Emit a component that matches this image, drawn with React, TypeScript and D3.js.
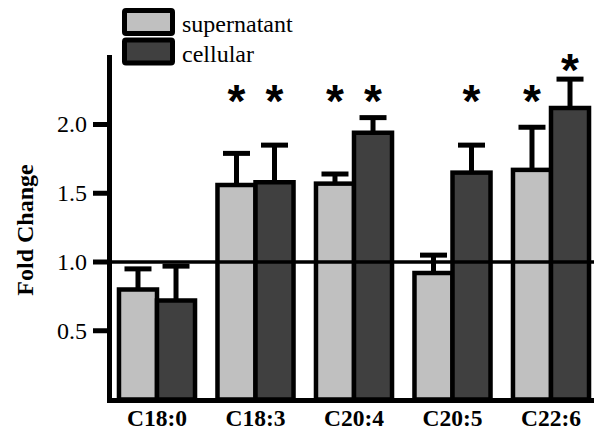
import React from 'react'
import * as d3 from 'd3'

const WIDTH = 596
const HEIGHT = 436

const categories = ['C18:0', 'C18:3', 'C20:4', 'C20:5', 'C22:6']
const seriesNames = ['supernatant', 'cellular']
const seriesColors = ['#c0c0c0', '#404040']

const supernatant = [0.80, 1.56, 1.57, 0.92, 1.67]
const supernatantErr = [0.15, 0.23, 0.07, 0.13, 0.31]
const cellular = [0.72, 1.58, 1.94, 1.65, 2.12]
const cellularErr = [0.25, 0.27, 0.11, 0.20, 0.21]

// significance markers
const supernatantSig = [false, true, true, false, true]
const cellularSig = [false, true, true, true, true]

const yTicks = [0.5, 1.0, 1.5, 2.0]
const refLine = 1.0
const starLevel = 2.22

const AXIS_X = 109.5
const AXIS_Y = 399.5
const TOP = 55
const RIGHT = 594

const SERIF = 'Liberation Serif, Times New Roman, Times, serif'
const SANS = 'Liberation Sans, Arial, sans-serif'

const App = () => {
  const yScale = d3.scaleLinear().domain([0, 1]).range([AXIS_Y, AXIS_Y - 137.5])
  const xScale = d3.scaleBand<string>()
    .domain(categories)
    .range([107.75, 600.25])
    .paddingInner(0.228)
    .paddingOuter(0.114)
  const inner = d3.scaleBand<string>().domain(seriesNames).range([0, xScale.bandwidth()])

  const series = [
    { name: seriesNames[0], values: supernatant, errs: supernatantErr, sig: supernatantSig, color: seriesColors[0] },
    { name: seriesNames[1], values: cellular, errs: cellularErr, sig: cellularSig, color: seriesColors[1] },
  ]

  return (
    <svg width={WIDTH} height={HEIGHT} style={{ position: 'absolute', left: 0, top: 0, background: 'white' }}>
      {/* error bars behind bars */}
      {series.map(s => categories.map((c, i) => {
        const cx = (xScale(c) || 0) + (inner(s.name) || 0) + inner.bandwidth() / 2
        const top = yScale(s.values[i] + s.errs[i])
        return (
          <g key={s.name + c + 'err'}>
            <line x1={cx} x2={cx} y1={yScale(s.values[i])} y2={top} stroke="black" strokeWidth={5} />
            <line x1={cx - 13.5} x2={cx + 13.5} y1={top} y2={top} stroke="black" strokeWidth={5} />
          </g>
        )
      }))}

      {/* bars */}
      {series.map(s => categories.map((c, i) => (
        <rect
          key={s.name + c}
          x={(xScale(c) || 0) + (inner(s.name) || 0)}
          y={yScale(s.values[i])}
          width={inner.bandwidth()}
          height={yScale(0) - yScale(s.values[i])}
          fill={s.color}
          stroke="black"
          strokeWidth={4.5}
        />
      )))}

      {/* reference line at 1.0 */}
      <line x1={95} x2={RIGHT} y1={yScale(refLine)} y2={yScale(refLine)} stroke="black" strokeWidth={3.5} />

      {/* stars */}
      {series.map(s => categories.map((c, i) => {
        if (!s.sig[i]) return null
        const cx = (xScale(c) || 0) + (inner(s.name) || 0) + inner.bandwidth() / 2
        const level = Math.max(starLevel, s.values[i] + s.errs[i] + 0.12)
        return (
          <text key={s.name + c + 'star'} x={cx} y={yScale(level) + 23} textAnchor="middle"
            fontFamily={SANS} fontWeight="bold" fontSize={46}>*</text>
        )
      }))}

      {/* y axis */}
      <g>
        <line x1={AXIS_X} x2={AXIS_X} y1={TOP} y2={AXIS_Y + 2.5} stroke="black" strokeWidth={5} />
        {yTicks.map(t => (
          <g key={t}>
            <line x1={93} x2={AXIS_X} y1={yScale(t)} y2={yScale(t)} stroke="black" strokeWidth={5} />
            <text x={87} y={yScale(t)} dy="0.33em" textAnchor="end" fontFamily={SERIF} fontSize={24}>
              {t.toFixed(1)}
            </text>
          </g>
        ))}
        <text transform={`translate(33, 230) rotate(-90)`} textAnchor="middle"
          fontFamily={SERIF} fontSize={24} fontWeight="bold">Fold Change</text>
      </g>

      {/* x axis */}
      <g>
        <line x1={AXIS_X - 2.5} x2={RIGHT} y1={AXIS_Y + 1} y2={AXIS_Y + 1} stroke="black" strokeWidth={5} />
        {categories.map(c => (
          <text key={c} x={(xScale(c) || 0) + xScale.bandwidth() / 2} y={426} textAnchor="middle"
            fontFamily={SERIF} fontSize={23.5} fontWeight="bold">{c}</text>
        ))}
      </g>

      {/* legend */}
      <g>
        {series.map((s, i) => (
          <g key={s.name} transform={`translate(0, ${i * 29.5})`}>
            <rect x={124.5} y={10.5} width={48} height={23} fill={s.color} stroke="black" strokeWidth={5} rx={1.5} />
            <text x={182} y={32} fontFamily={SERIF} fontSize={24}>{s.name}</text>
          </g>
        ))}
      </g>
    </svg>
  )
}

export default App
